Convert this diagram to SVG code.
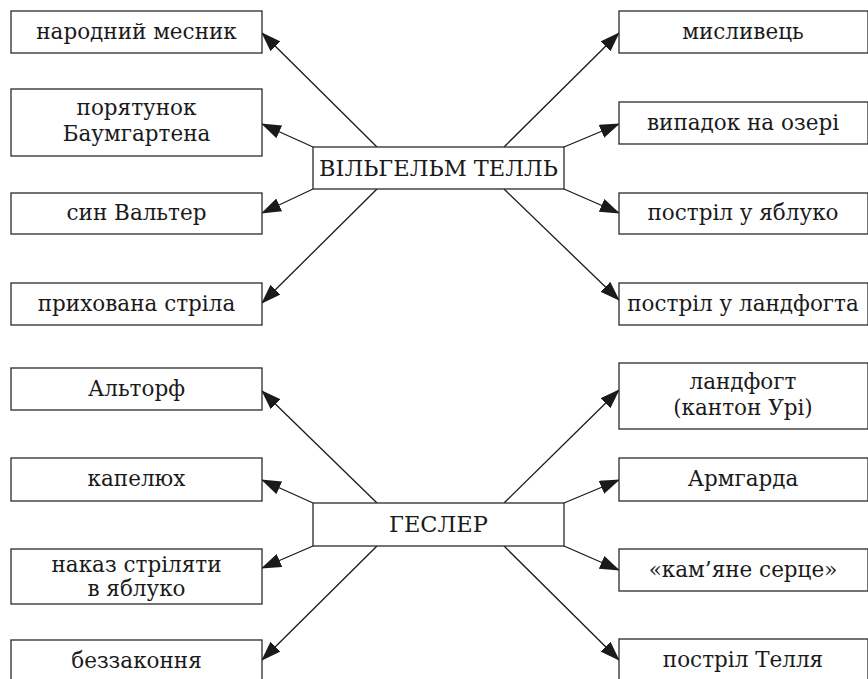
<svg xmlns="http://www.w3.org/2000/svg" width="868" height="679" viewBox="0 0 868 679">
<defs>
<style>
.box{fill:#fff;stroke:#2a2a2a;stroke-width:1.3}
.t{font-family:"DejaVu Serif","Liberation Serif",serif;font-size:21.5px;fill:#1a1a1a;text-anchor:middle}
.c{font-size:22.5px}
.ln{stroke:#1a1a1a;stroke-width:1.3;fill:none}
</style>
<marker id="ah" viewBox="0 0 20 14" refX="19" refY="7" markerWidth="20" markerHeight="14" markerUnits="userSpaceOnUse" orient="auto">
<path d="M0,0 L20,7 L0,14 Z" fill="#1a1a1a"/>
</marker>
</defs>
<rect width="868" height="679" fill="#fff"/>
<g id="connectors">
<line class="ln" x1="377" y1="147" x2="262" y2="33" marker-end="url(#ah)"/>
<line class="ln" x1="313" y1="147" x2="262" y2="124" marker-end="url(#ah)"/>
<line class="ln" x1="313" y1="189" x2="262" y2="213" marker-end="url(#ah)"/>
<line class="ln" x1="377" y1="189" x2="262" y2="303" marker-end="url(#ah)"/>
<line class="ln" x1="504" y1="147" x2="619" y2="33" marker-end="url(#ah)"/>
<line class="ln" x1="564" y1="147" x2="619" y2="124" marker-end="url(#ah)"/>
<line class="ln" x1="564" y1="189" x2="619" y2="213" marker-end="url(#ah)"/>
<line class="ln" x1="504" y1="189" x2="619" y2="300" marker-end="url(#ah)"/>
<line class="ln" x1="377" y1="503" x2="262" y2="391" marker-end="url(#ah)"/>
<line class="ln" x1="313" y1="503" x2="262" y2="480" marker-end="url(#ah)"/>
<line class="ln" x1="313" y1="546" x2="262" y2="568" marker-end="url(#ah)"/>
<line class="ln" x1="377" y1="546" x2="262" y2="660" marker-end="url(#ah)"/>
<line class="ln" x1="504" y1="503" x2="619" y2="390" marker-end="url(#ah)"/>
<line class="ln" x1="564" y1="503" x2="619" y2="480" marker-end="url(#ah)"/>
<line class="ln" x1="564" y1="546" x2="619" y2="570" marker-end="url(#ah)"/>
<line class="ln" x1="504" y1="546" x2="619" y2="660" marker-end="url(#ah)"/>
</g>
<g id="tell"><rect class="box" x="313" y="147" width="251" height="42"/><text class="t c" x="438.5" y="176">ВІЛЬГЕЛЬМ ТЕЛЛЬ</text></g>
<g id="gesler"><rect class="box" x="313" y="503" width="251" height="43"/><text class="t c" x="438.5" y="532">ГЕСЛЕР</text></g>
<g id="l1"><rect class="box" x="11" y="11" width="251" height="42"/><text class="t" x="136.5" y="39">народний месник</text></g>
<g id="l2"><rect class="box" x="11" y="89" width="251" height="67"/><text class="t" x="136.5" y="115">порятунок</text><text class="t" x="136.5" y="141">Баумгартена</text></g>
<g id="l3"><rect class="box" x="11" y="193" width="251" height="41"/><text class="t" x="136.5" y="220">син Вальтер</text></g>
<g id="l4"><rect class="box" x="11" y="283" width="251" height="42"/><text class="t" x="136.5" y="311">прихована стріла</text></g>
<g id="l5"><rect class="box" x="11" y="368" width="251" height="42"/><text class="t" x="136.5" y="396">Альторф</text></g>
<g id="l6"><rect class="box" x="11" y="458" width="251" height="43"/><text class="t" x="136.5" y="486">капелюх</text></g>
<g id="l7"><rect class="box" x="11" y="549" width="251" height="55"/><text class="t" x="136.5" y="572">наказ стріляти</text><text class="t" x="136.5" y="596">в яблуко</text></g>
<g id="l8"><rect class="box" x="11" y="640" width="251" height="50"/><text class="t" x="136.5" y="668">беззаконня</text></g>
<g id="r1"><rect class="box" x="619" y="11" width="249" height="42"/><text class="t" x="743" y="39">мисливець</text></g>
<g id="r2"><rect class="box" x="619" y="102" width="249" height="42"/><text class="t" x="743" y="130">випадок на озері</text></g>
<g id="r3"><rect class="box" x="619" y="193" width="249" height="41"/><text class="t" x="743" y="220">постріл у яблуко</text></g>
<g id="r4"><rect class="box" x="619" y="283" width="249" height="42"/><text class="t" x="743" y="311">постріл у ландфогта</text></g>
<g id="r5"><rect class="box" x="619" y="363" width="249" height="66"/><text class="t" x="743" y="389">ландфогт</text><text class="t" x="743" y="415">(кантон Урі)</text></g>
<g id="r6"><rect class="box" x="619" y="458" width="249" height="43"/><text class="t" x="743" y="486">Армгарда</text></g>
<g id="r7"><rect class="box" x="619" y="549" width="249" height="42"/><text class="t" x="743" y="577">«кам’яне серце»</text></g>
<g id="r8"><rect class="box" x="619" y="639" width="249" height="51"/><text class="t" x="743" y="667">постріл Телля</text></g>
</svg>
